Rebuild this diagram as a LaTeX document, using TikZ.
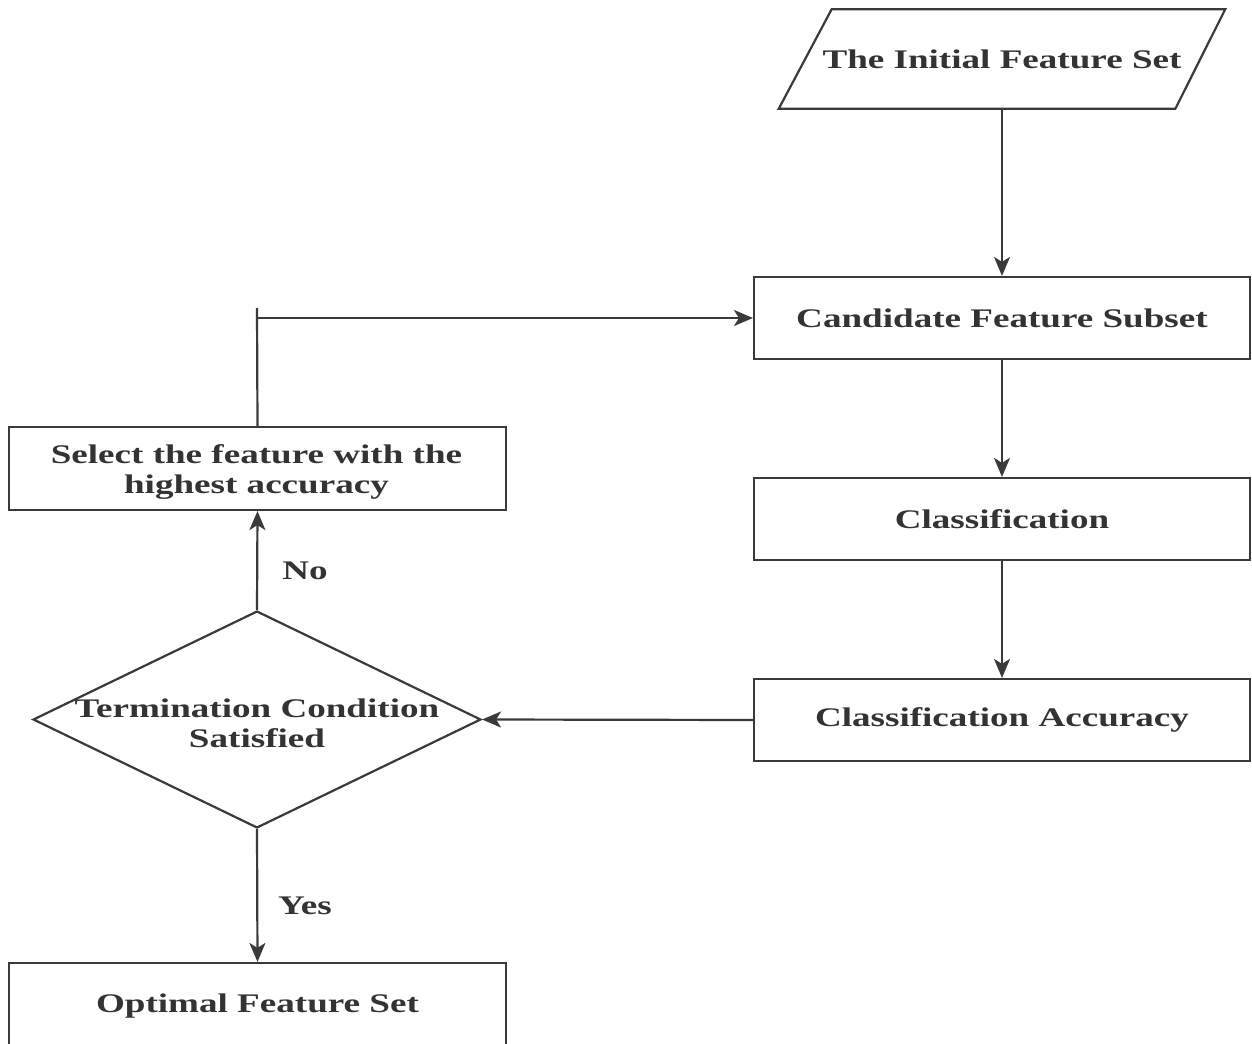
\documentclass[tikz,border=0pt]{standalone}
\usepackage{fontspec}
\setmainfont[FakeStretch=1.38]{Liberation Serif}
\usetikzlibrary{shapes.geometric,arrows.meta,calc}
\definecolor{ink}{HTML}{333333}
\definecolor{edge}{HTML}{3A3A3A}
\begin{document}
\begin{tikzpicture}[x=0.02cm,y=-0.02cm,
  txt/.style={font=\fontsize{15.3pt}{17pt}\selectfont\bfseries, text=ink, align=center},
  procbox/.style={txt, draw=edge, line width=1.25pt, minimum width=9.92cm, minimum height=1.64cm, inner sep=0pt},
  flow/.style={draw=edge, line width=1.25pt, -{Stealth[length=3.8mm,width=3.2mm,inset=1mm]}},
  link/.style={draw=edge, line width=1.25pt}]
\useasboundingbox (0,0) rectangle (1252,1044);
\clip (0,0) rectangle (1252,1044);

% input parallelogram
\node[txt, minimum width=7.92cm, minimum height=1.98cm, inner sep=0pt] (init) at (1002,59) {The Initial Feature Set};
\draw[link] ($(init.north west)+(28,0)$) -- ($(init.north east)+(25,0)$)
  -- ($(init.south east)+(-25,0)$) -- ($(init.south west)+(-25,0)$) -- cycle;

% right-hand column
\node[procbox] (cand) at (1002,318) {Candidate Feature Subset};
\node[procbox] (cls) at (1002,519) {Classification};
\node[procbox] (acc) at (1002,720) {Classification Accuracy};

% decision
\node[diamond, draw=edge, line width=1.25pt, minimum width=8.96cm, minimum height=4.34cm, inner sep=0pt] (cond) at (257,719.5) {};
\node[txt] (condtxt) at (257,723) {Termination Condition\\Satisfied};

% left-hand column
\node[procbox, minimum width=9.94cm, minimum height=1.66cm] (sel) at (257.5,468.5) {};
\node[txt] (seltxt) at (256.5,472) {Select the feature with the\\highest accuracy};
\node[procbox, minimum width=9.94cm, minimum height=1.72cm] (opt) at (257.5,1006) {Optimal Feature Set};

% loop-back corner
\coordinate (tick) at (257,308);
\coordinate (join) at (257,318);

% connectors
\draw[flow] (cond.north) -- (sel.south);
\draw[flow] (cond.south) -- (opt.north);
\draw[flow] (init.south) -- (cand.north);
\draw[flow] (cand.south) -- (cls.north);
\draw[flow] (cls.south) -- (acc.north);
\draw[flow] (acc.west) -- (cond.east);
\draw[link] (sel.north) -- (tick);
\draw[flow] (join) -- (cand.west);

% branch labels
\node[txt] (no) at (305,571) {No};
\node[txt] (yes) at (305,906) {Yes};
\end{tikzpicture}
\end{document}
